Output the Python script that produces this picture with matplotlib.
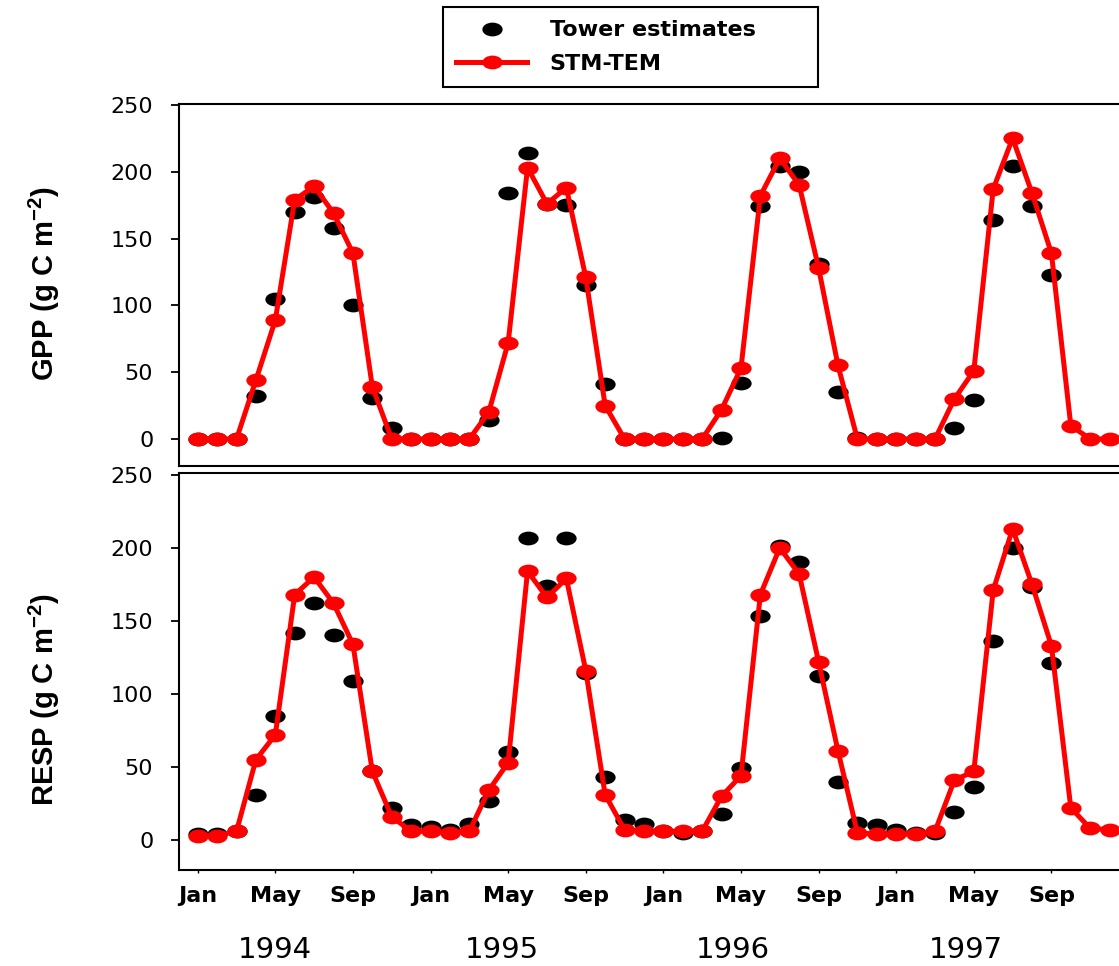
import numpy as np
import matplotlib
matplotlib.use('Agg')
import matplotlib.pyplot as plt
from matplotlib.path import Path
from matplotlib.transforms import Affine2D, blended_transform_factory
from matplotlib.lines import Line2D

plt.rcParams['font.family'] = ['DejaVu Sans']
plt.rcParams['mathtext.fontset'] = 'custom'
plt.rcParams['mathtext.rm'] = 'Liberation Sans'
plt.rcParams['mathtext.bf'] = 'Liberation Sans:bold'

# monthly values, Jan 1994 .. Dec 1997 (tower record ends Sep 1997)
months = np.arange(48)
tick_pos = [0, 4, 8, 12, 16, 20, 24, 28, 32, 36, 40, 44]
tick_labels = ['Jan', 'May', 'Sep'] * 4
years = ['1994', '1995', '1996', '1997']
year_pos = [4.0, 15.7, 27.6, 39.6]

gpp_tower = [0, 0, 0, 32, 105, 170, 181, 158, 100, 31, 8, 0,
             0, 0, 0, 14, 184, 214, 176, 175, 115, 41, 0, 0,
             0, 0, 0, 1, 42, 174, 204, 200, 131, 35, 1, 0,
             0, 0, 0, 8, 29, 164, 204, 174, 123, np.nan, np.nan, np.nan]
gpp_model = [0, 0, 0, 44, 89, 179, 189, 169, 139, 39, 0, 0,
             0, 0, 0, 20, 72, 203, 176, 188, 121, 25, 0, 0,
             0, 0, 0, 22, 53, 182, 210, 190, 128, 55, 0, 0,
             0, 0, 0, 30, 51, 187, 225, 184, 139, 10, 0, 0]
resp_tower = [4, 4, 6, 31, 85, 142, 162, 140, 109, 47, 22, 10,
              9, 7, 11, 27, 60, 207, 174, 207, 114, 43, 14, 11,
              6, 5, 6, 18, 49, 153, 201, 190, 112, 40, 12, 10,
              7, 5, 5, 19, 36, 136, 200, 173, 121, np.nan, np.nan, np.nan]
resp_model = [3, 3, 6, 55, 72, 168, 180, 162, 134, 47, 16, 6,
              6, 5, 6, 34, 53, 184, 166, 179, 116, 31, 7, 6,
              6, 6, 6, 30, 44, 168, 200, 182, 122, 61, 5, 4,
              4, 4, 6, 41, 47, 171, 213, 175, 133, 22, 8, 7]

W, H = 1119, 966
fig = plt.figure(figsize=(W / 100, H / 100), dpi=100)

ell = Path.unit_circle().transformed(Affine2D().scale(1.0, 0.68))
ms = 14.6

left = 179 / W
width = (1130 - 179) / W
ax1 = fig.add_axes([left, 1 - 466 / H, width, (466 - 103.5) / H])
ax2 = fig.add_axes([left, 1 - 870 / H, width, (870 - 473) / H])

for ax, tower, model in [(ax1, gpp_tower, gpp_model), (ax2, resp_tower, resp_model)]:
    ax.plot(months, tower, ls='none', marker=ell, ms=ms, color='black',
            mew=0, clip_on=False, zorder=3)
    ax.plot(months, model, color='#ff0000', lw=3.6, marker=ell, ms=ms,
            mew=0, clip_on=False, zorder=4)
    ax.set_xlim(-0.964, 48.05)
    ax.set_yticks([0, 50, 100, 150, 200, 250])
    ax.tick_params(axis='y', direction='out', length=5.5, width=1.3,
                   pad=13, labelsize=16)
    for s in ax.spines.values():
        s.set_linewidth(1.5)

ax1.set_ylim(-20.2, 251)
ax2.set_ylim(-20.5, 251.2)
ax1.tick_params(axis='x', bottom=False, labelbottom=False)
ax2.set_xticks(tick_pos)
ax2.set_xticklabels(tick_labels, fontweight='bold')
ax2.tick_params(axis='x', direction='out', length=2.5, width=1.0,
                pad=9, labelsize=16)

tr = blended_transform_factory(ax2.transData, fig.transFigure)
for p, y in zip(year_pos, years):
    ax2.text(p, 1 - 950 / H, y, transform=tr, ha='center', va='center',
             fontsize=21)

fig.text(44 / W, 1 - 284 / H, r'GPP (g C m$^{\mathbf{-2}}$)', rotation=90,
         ha='center', va='center', fontsize=21, fontweight='bold',
         family='Liberation Sans')
fig.text(44 / W, 1 - 700 / H, r'RESP (g C m$^{\mathbf{-2}}$)', rotation=90,
         ha='center', va='center', fontsize=21, fontweight='bold',
         family='Liberation Sans')

handles = [Line2D([], [], ls='none', marker=ell, ms=ms, color='black', mew=0),
           Line2D([], [], color='#ff0000', lw=3.6, marker=ell, ms=ms, mew=0)]
leg = fig.legend(handles, ['Tower estimates', 'STM-TEM'],
                 loc='upper left',
                 bbox_to_anchor=(443 / W, 1 - 82 / H, 375 / W, 75 / H),
                 mode='expand', borderaxespad=0, fancybox=False,
                 framealpha=1, edgecolor='black', handlelength=3.2,
                 handletextpad=1.0, borderpad=0.6, labelspacing=0.6,
                 prop={'weight': 'bold', 'size': 16})
leg.get_frame().set_linewidth(1.5)

fig.savefig('out.png', dpi=100)
